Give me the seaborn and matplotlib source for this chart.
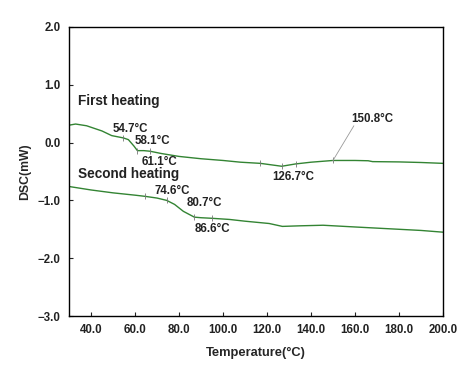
import matplotlib
matplotlib.use("Agg")
import matplotlib.pyplot as plt
import seaborn as sns
import pandas as pd
import numpy as np

# first heating curve
t1 = [30, 33, 38, 45, 49.4, 54.7, 57, 59.5, 61.1, 64, 66.8, 72, 80, 90, 100, 108, 117, 126.7, 133, 140, 150, 160, 166, 168, 180, 190, 200]
dsc1 = [0.30, 0.32, 0.29, 0.20, 0.12, 0.08, 0.05, -0.06, -0.14, -0.14, -0.15, -0.19, -0.24, -0.28, -0.31, -0.34, -0.36, -0.41, -0.37, -0.34, -0.31, -0.31, -0.315, -0.33, -0.335, -0.345, -0.36]
# second heating curve
t2 = [30, 40, 50, 60, 64.5, 70, 74.4, 78, 82, 87, 90, 95, 103, 110, 121, 127, 135, 145.5, 160, 175, 190, 200]
dsc2 = [-0.76, -0.82, -0.87, -0.91, -0.93, -0.96, -1.00, -1.07, -1.19, -1.29, -1.30, -1.31, -1.33, -1.36, -1.40, -1.45, -1.44, -1.43, -1.46, -1.49, -1.52, -1.55]

# small tick marks on the curves
mark_t1 = [54.7, 61.1, 66.8, 117, 126.7, 133, 150]
mark_t2 = [64.5, 74.4, 87, 95]

# annotations: text, x, y
ann_text = ["54.7°C", "58.1°C", "61.1°C", "126.7°C", "150.8°C", "74.6°C", "80.7°C", "86.6°C"]
ann_x = [57.7, 68.0, 71.0, 132.0, 168.0, 77.0, 91.4, 95.0]
ann_y = [0.24, 0.03, -0.33, -0.60, 0.41, -0.83, -1.05, -1.50]

xticks = [40, 60, 80, 100, 120, 140, 160, 180, 200]
yticks = [-3, -2, -1, 0, 1, 2]

sns.set_style("white")
plt.rcParams["font.family"] = ["Liberation Sans", "DejaVu Sans"]

fig = plt.figure(figsize=(4.71, 3.84), dpi=100)
ax = fig.add_axes([0.1465, 0.177, 0.794, 0.753])

green = "#338433"
df1 = pd.DataFrame({"T": t1, "DSC": dsc1})
df2 = pd.DataFrame({"T": t2, "DSC": dsc2})
sns.lineplot(data=df1, x="T", y="DSC", sort=False, color=green, lw=1.0, ax=ax)
sns.lineplot(data=df2, x="T", y="DSC", sort=False, color=green, lw=1.0, ax=ax)

# little vertical marks at the analysed points
for ts, xs, ys in [(mark_t1, t1, dsc1), (mark_t2, t2, dsc2)]:
    yv = np.interp(ts, xs, ys)
    ax.plot(ts, yv, ls="none", marker="|", ms=4, mew=0.6, color="#777777")

for s, x, y in zip(ann_text, ann_x, ann_y):
    ax.text(x, y, s, ha="center", va="center", fontsize=8.3, fontweight="bold", color="#222222")

# leader line for 150.8
ax.plot([159.5, 150], [0.29, -0.31], color="#999999", lw=0.6)

ax.text(34, 0.72, "First heating", fontsize=9.8, fontweight="bold", color="#222222", va="center")
ax.text(34, -0.55, "Second heating", fontsize=9.8, fontweight="bold", color="#222222", va="center")

ax.set_xlim(30, 200)
ax.set_ylim(-3, 2)
ax.set_xticks(xticks)
ax.set_xticklabels([f"{v:.1f}" for v in xticks], fontsize=8.3, fontweight="bold")
ax.set_yticks(yticks)
ax.set_yticklabels([f"{v:.1f}".replace("-", "\u2212") for v in yticks], fontsize=8.3, fontweight="bold")
ax.tick_params(direction="in", length=3, width=0.8, left=True, bottom=True, pad=6, colors="#222222")
for sp in ax.spines.values():
    sp.set_color("black")
    sp.set_linewidth(1.0)

ax.set_xlabel("Temperature(°C)", fontsize=9.3, fontweight="bold", labelpad=8)
ax.set_ylabel("DSC(mW)", fontsize=8.8, fontweight="bold", labelpad=5)

fig.savefig("out.png", dpi=100)
